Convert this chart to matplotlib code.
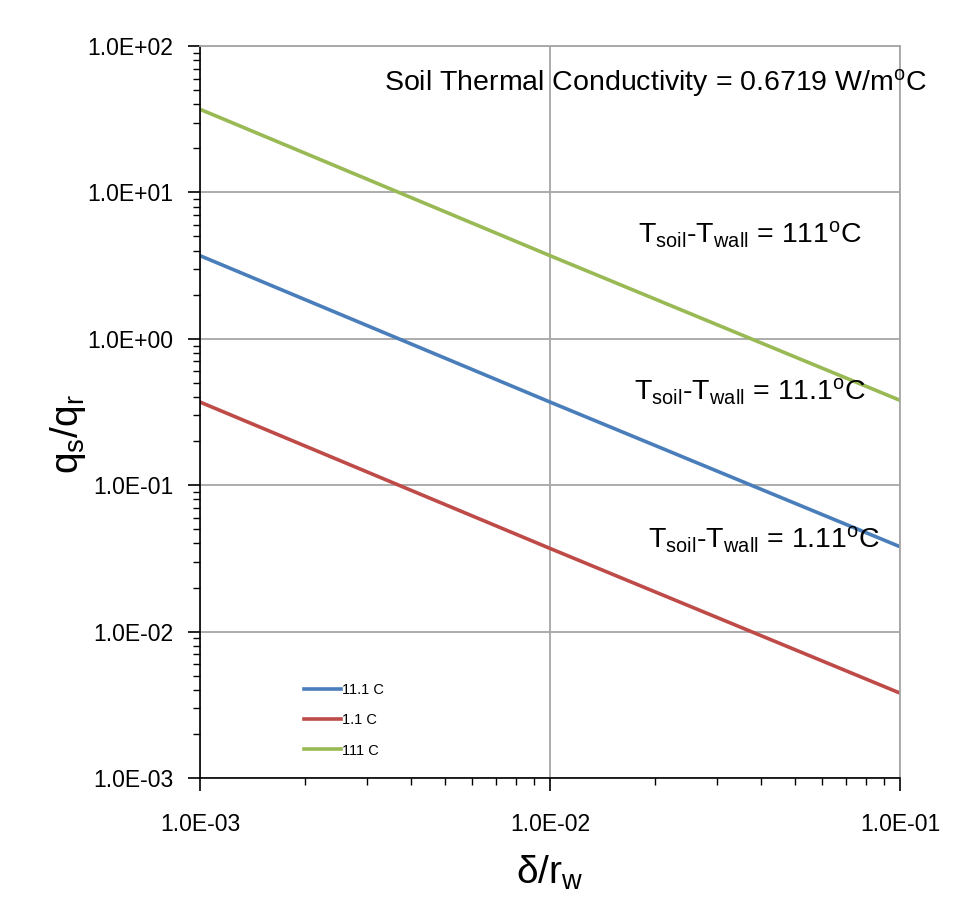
# -*- coding: utf-8 -*-
# q_s/q_r vs delta/r_w, log-log

import matplotlib.pyplot as plt
from matplotlib.ticker import LogLocator, FixedLocator, FixedFormatter, NullFormatter

plt.rcParams['font.family'] = ['Liberation Sans', 'DejaVu Sans']
plt.rcParams['mathtext.fontset'] = 'custom'
plt.rcParams['mathtext.rm'] = 'Liberation Sans'
plt.rcParams['mathtext.it'] = 'Liberation Sans:italic'

# 数据
delta_rw = [1e-3, 1e-2, 1e-1]
q_11_1 = [3.7, 0.37, 0.038]
q_1_1 = [0.37, 0.037, 0.0038]
q_111 = [37.0, 3.7, 0.38]

series_labels = ['11.1 C', '1.1 C', '111 C']
x_ticks = [1e-3, 1e-2, 1e-1]
x_tick_labels = ['1.0E-03', '1.0E-02', '1.0E-01']
y_ticks = [1e-3, 1e-2, 1e-1, 1e0, 1e1, 1e2]
y_tick_labels = ['1.0E-03', '1.0E-02', '1.0E-01', '1.0E+00', '1.0E+01', '1.0E+02']

fig = plt.figure(figsize=(9.59, 9.21), dpi=100)
ax = fig.add_axes([0.2085, 0.1553, 0.73, 0.7947])

ax.plot(delta_rw, q_11_1, color='#4a7ebb', lw=2.6, label=series_labels[0])
ax.plot(delta_rw, q_1_1, color='#be4b48', lw=2.6, label=series_labels[1])
ax.plot(delta_rw, q_111, color='#98b954', lw=2.6, label=series_labels[2])

ax.set_xscale('log')
ax.set_yscale('log')
ax.set_xlim(1e-3, 1e-1)
ax.set_ylim(1e-3, 1e2)

ax.xaxis.set_major_locator(FixedLocator(x_ticks))
ax.xaxis.set_major_formatter(FixedFormatter(x_tick_labels))
ax.yaxis.set_major_locator(FixedLocator(y_ticks))
ax.yaxis.set_major_formatter(FixedFormatter(y_tick_labels))
ax.xaxis.set_minor_locator(LogLocator(base=10, subs=range(2, 10)))
ax.yaxis.set_minor_locator(LogLocator(base=10, subs=range(2, 10)))
ax.xaxis.set_minor_formatter(NullFormatter())
ax.yaxis.set_minor_formatter(NullFormatter())

ax.tick_params(which='major', direction='out', length=9, width=1.2, labelsize=16.5, pad=10)
ax.tick_params(which='minor', direction='out', length=5, width=1.0)
ax.tick_params(axis='x', which='major', pad=16)

ax.grid(True, which='major', color='#a6a6a6', lw=1.3)
for s in ['top', 'right']:
    ax.spines[s].set_color('#a6a6a6')
    ax.spines[s].set_linewidth(1.3)
for s in ['left', 'bottom']:
    ax.spines[s].set_color('black')
    ax.spines[s].set_linewidth(1.2)

ax.set_ylabel(r'$\mathrm{q_s/q_r}$', fontsize=28, va='center')
ax.yaxis.set_label_coords(-0.189, 0.47)
ax.set_xlabel(r'$\mathrm{\delta/r_w}$', fontsize=28, va='center')
ax.xaxis.set_label_coords(0.5, -0.13)

# 标注
ax.text(0.65, 0.949, r'Soil Thermal Conductivity = 0.6719 W/m$^\mathrm{o}$C',
        transform=ax.transAxes, ha='center', va='center', fontsize=20.5)
ax.text(0.786, 0.742, r'T$_\mathrm{soil}$-T$_\mathrm{wall}$ = 111$^\mathrm{o}$C',
        transform=ax.transAxes, ha='center', va='center', fontsize=20.5)
ax.text(0.786, 0.527, r'T$_\mathrm{soil}$-T$_\mathrm{wall}$ = 11.1$^\mathrm{o}$C',
        transform=ax.transAxes, ha='center', va='center', fontsize=20.5)
ax.text(0.806, 0.326, r'T$_\mathrm{soil}$-T$_\mathrm{wall}$ = 1.11$^\mathrm{o}$C',
        transform=ax.transAxes, ha='center', va='center', fontsize=20.5)

ax.legend(loc='lower left', bbox_to_anchor=(0.13, 0.01), frameon=False,
          fontsize=10.5, handlelength=2.5, handletextpad=0.1, labelspacing=1.1)

fig.savefig('out.png', dpi=100)
